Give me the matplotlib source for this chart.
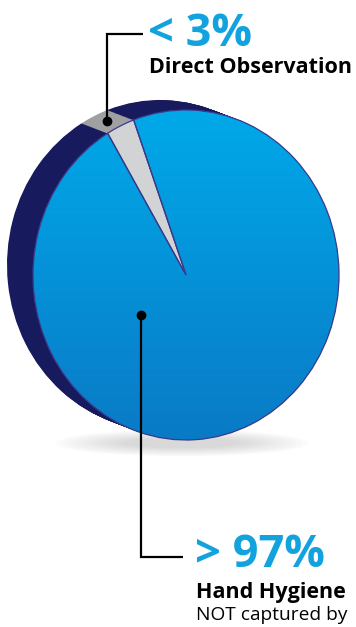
import matplotlib
matplotlib.use('Agg')
import matplotlib.pyplot as plt
import numpy as np
from matplotlib.patches import Ellipse

# data
categories = ['Direct Observation', 'Hand Hygiene']
shares = [3, 97]
share_labels = ['< 3%', '> 97%']
sub_labels = ['', 'NOT captured by']

W, H = 356, 627
# face ellipse in pixels
cx, cy, rx, ry = 186, 275, 153, 165
rim_dx, rim_dy = -26, -10   # pixel offset of the back face

face_cols = ['#d1d3d4', '#0d98d8']
rim_cols = ['#9fa0a2', '#181a5e']
edge_col = '#3b3a8c'
blue_txt = '#12a3de'


def px(x, y):
    # pixel -> data coords (pie unit circle stretched to the ellipse)
    return (x - cx) / rx, (cy - y) / ry


fig = plt.figure(figsize=(W / 100, H / 100), dpi=100)
ax = fig.add_axes([0, 0, 1, 1])
ax.axis('off')

start = 110

# soft shadow under the disc
for i in range(12):
    e = Ellipse(px(182, 443), 1.65 - i * 0.08, 0.16 - i * 0.009,
                color='#7a7a7a', alpha=0.025, lw=0, zorder=0)
    ax.add_patch(e)

# rim: sweep the pie from the back offset to the front face
n = 30
for k in range(n, 0, -1):
    t = k / n
    ox, oy = px(cx + rim_dx * t, cy + rim_dy * t)
    ax.pie(shares, colors=rim_cols, startangle=start, center=(ox, oy),
           radius=1, wedgeprops=dict(linewidth=0), frame=True)

# front face
wedges, _ = ax.pie(shares, colors=face_cols, startangle=start, center=(0, 0),
                   radius=1, wedgeprops=dict(linewidth=0), frame=True)

# gradient on the big slice
grad = np.linspace(0, 1, 256).reshape(-1, 1)
cmap = matplotlib.colors.LinearSegmentedColormap.from_list('b', ['#00a9e9', '#0a7ac6'])
im = ax.imshow(grad, cmap=cmap, extent=(-1, 1, -1, 1), aspect='auto',
               origin='upper', zorder=wedges[1].get_zorder() + 0.1)
im.set_clip_path(wedges[1])

# outlines
ax.pie(shares, colors=['none', 'none'], startangle=start, center=(0, 0),
       radius=1, wedgeprops=dict(linewidth=0.9, edgecolor=edge_col,
                                 facecolor='none', zorder=5), frame=True)

ax.set_aspect('auto')
ax.set_xlim(px(0, 0)[0], px(W, 0)[0])
ax.set_ylim(px(0, H)[1], px(0, 0)[1])
ax.axis('off')

# leader for small slice
ang = np.deg2rad(start + shares[0] * 3.6 / 2)
dot1 = (np.cos(ang) + 0.5 * rim_dx / rx, np.sin(ang) - 0.5 * rim_dy / ry)
ax.plot(*dot1, 'o', color='black', ms=6, zorder=10)
top = px(0, 34)[1]
right1 = px(143, 0)[0]
ax.plot([dot1[0], dot1[0], right1], [dot1[1], top, top], color='black',
        lw=1.6, zorder=10, solid_capstyle='butt', solid_joinstyle='miter')

# leader for big slice
dot2 = px(141, 315)
ax.plot(*dot2, 'o', color='black', ms=6, zorder=10)
bot = px(0, 557)[1]
right2 = px(183, 0)[0]
ax.plot([dot2[0], dot2[0], right2], [dot2[1], bot, bot], color='black',
        lw=1.6, zorder=10, solid_capstyle='butt', solid_joinstyle='miter')

font = 'Open Sans'


def fx(x):
    return x / W


def fy(y):
    return 1 - y / H


fig.text(fx(148), fy(46), share_labels[0], color=blue_txt, fontsize=32.5,
         fontweight='bold', family=font, va='baseline')
fig.text(fx(149), fy(73), categories[0], color='black', fontsize=15.5,
         fontweight='bold', family=font, va='baseline')

fig.text(fx(195), fy(567), share_labels[1], color=blue_txt, fontsize=32.5,
         fontweight='bold', family=font, va='baseline')
fig.text(fx(196), fy(598), categories[1], color='black', fontsize=15.5,
         fontweight='bold', family=font, va='baseline')
fig.text(fx(196), fy(620), sub_labels[1], color='black', fontsize=13.8,
         family=font, va='baseline')

plt.savefig('out.png', dpi=100)
